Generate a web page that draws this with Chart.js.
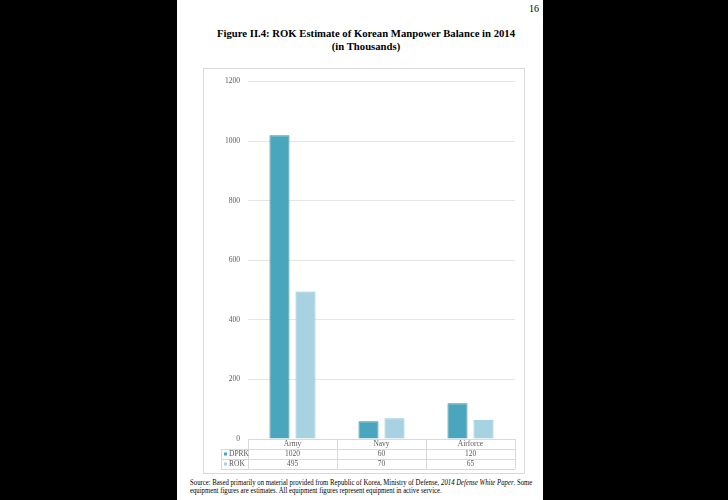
<!DOCTYPE html>
<html>
<head>
<meta charset="utf-8">
<script src="https://cdn.jsdelivr.net/npm/chart.js@4/dist/chart.umd.min.js"></script>
<style>
  html, body { margin: 0; padding: 0; background: #000; }
  body { width: 728px; height: 500px; position: relative; overflow: hidden; }
  #page { position: absolute; left: 177px; top: 0; width: 366px; height: 500px; background: #fff; }
  #pnum { position: absolute; left: 529px; top: 3px; font: 10px "Liberation Serif", serif; color: #000; }
  #title { position: absolute; left: 183px; width: 366px; top: 27px; text-align: center;
           font: bold 10.7px/12.5px "Liberation Serif", serif; color: #000; }
  #box { position: absolute; left: 203px; top: 68px; width: 320px; height: 404px; border: 1px solid #d9d9d9; }
  #wrap { position: absolute; left: 204px; top: 69px; width: 320px; height: 404px; }
  #src { position: absolute; left: 190px; top: 479px; width: 400px; font: 7.5px/8.4px "Liberation Serif", serif; color: #000;
         white-space: nowrap; transform: scaleX(0.9); transform-origin: 0 0; }
</style>
</head>
<body>
<div id="page"></div>
<div id="pnum">16</div>
<div id="title">Figure II.4: ROK Estimate of Korean Manpower Balance in 2014<br>(in Thousands)</div>
<div id="box"></div>
<div id="wrap"><canvas id="c"></canvas></div>
<div id="src">Source: Based primarily on material provided from Republic of Korea, Ministry of Defense, <i>2014 Defense White Paper</i>. Some<br>equipment figures are estimates. All equipment figures represent equipment in active service.</div>
<script>
const categories = ["Army", "Navy", "Airforce"];
const dprkValues = [1020, 60, 120];
const rokValues = [495, 70, 65];
const seriesNames = ["DPRK", "ROK"];
const yTicks = [0, 200, 400, 600, 800, 1000, 1200];

const colors = ["#4aa6bc", "#a6d2e1"];
const borders = ["#3a8ea4", "#8fc4d7"];
const seriesValues = [dprkValues, rokValues];

const tablePlugin = {
  id: 'dataTable',
  afterDraw(chart) {
    const ctx = chart.ctx;
    const area = chart.chartArea;
    const xs = chart.scales.x;
    const n = categories.length;
    const cw = (area.right - area.left) / n;
    const rowH = 10;
    const top = area.bottom;
    const legLeft = area.left - 27;
    ctx.save();
    ctx.strokeStyle = '#d9d9d9';
    ctx.lineWidth = 1;
    const hl = (x1, x2, y) => { ctx.beginPath(); ctx.moveTo(x1, y + 0.5); ctx.lineTo(x2, y + 0.5); ctx.stroke(); };
    const vl = (x, y1, y2) => { ctx.beginPath(); ctx.moveTo(x + 0.5, y1); ctx.lineTo(x + 0.5, y2); ctx.stroke(); };
    hl(area.left, area.right, top);
    hl(legLeft, area.right, top + rowH);
    hl(legLeft, area.right, top + 2 * rowH);
    hl(legLeft, area.right, top + 3 * rowH);
    vl(legLeft, top + rowH, top + 3 * rowH);
    for (let i = 0; i <= n; i++) {
      const x = Math.round(area.left + i * cw);
      vl(x, top, top + 3 * rowH);
    }
    ctx.font = '7.5px "Liberation Serif", serif';
    ctx.textAlign = 'center';
    ctx.textBaseline = 'middle';
    categories.forEach((c, i) => {
      const x = xs.getPixelForValue(i);
      ctx.fillStyle = '#595959';
      ctx.fillText(c, x, top + rowH / 2 + 0.5);
      seriesValues.forEach((vals, s) => {
        ctx.fillText(String(vals[i]), x, top + rowH * (s + 1) + rowH / 2 + 0.5);
      });
    });
    ctx.textAlign = 'left';
    seriesNames.forEach((name, s) => {
      const y = top + rowH * (s + 1) + rowH / 2;
      ctx.fillStyle = colors[s];
      ctx.fillRect(legLeft + 3, y - 1.5, 3, 3);
      ctx.fillStyle = '#595959';
      ctx.fillText(name, legLeft + 8, y + 0.5);
    });
    ctx.restore();
  }
};

new Chart(document.getElementById('c'), {
  type: 'bar',
  data: {
    labels: categories,
    datasets: seriesNames.map((name, s) => ({
      label: name,
      data: seriesValues[s],
      backgroundColor: colors[s],
      borderColor: borders[s],
      borderWidth: 1,
      categoryPercentage: 0.585,
      barPercentage: 0.77
    }))
  },
  options: {
    responsive: true,
    maintainAspectRatio: false,
    animation: false,
    layout: { padding: { left: 0, top: 11, right: 9, bottom: 4 } },
    plugins: { legend: { display: false }, tooltip: { enabled: false } },
    scales: {
      x: {
        grid: { display: false, drawTicks: false },
        border: { display: false },
        ticks: { display: false },
        afterFit(scale) { scale.height = 30; }
      },
      y: {
        min: 0, max: 1200,
        afterBuildTicks(scale) { scale.ticks = yTicks.map(v => ({ value: v })); },
        grid: { color: '#e6e6e6', drawTicks: false },
        border: { display: false },
        ticks: { color: '#595959', padding: 8, font: { family: '"Liberation Serif", serif', size: 7.5 },
                 callback: (v) => String(v) },
        afterFit(scale) { scale.width = 44; }
      }
    }
  },
  plugins: [tablePlugin]
});
</script>
</body>
</html>
